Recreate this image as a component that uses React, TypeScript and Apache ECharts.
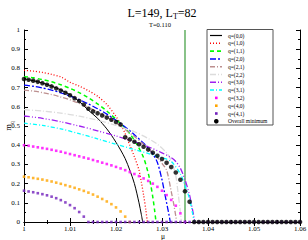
import React, { useEffect, useRef } from "react";
import * as echarts from "echarts";

const FONT = "Liberation Serif";

const xTicks = [1, 1.01, 1.02, 1.03, 1.04, 1.05, 1.06];
const yTicks = [0, 0.1, 0.2, 0.3, 0.4, 0.5, 0.6, 0.7, 0.8, 0.9, 1];

const muVertical = 1.035;

const q00: [number, number][] = [[1.000, .745], [1.002, .736], [1.004, .724], [1.006, .708], [1.008, .688], [1.010, .663], [1.012, .628], [1.014, .582], [1.016, .540], [1.018, .485], [1.019, .452], [1.020, .415], [1.021, .375], [1.022, .33], [1.023, .27], [1.024, .20], [1.025, .10], [1.0255, .04], [1.0258, 0]];
const q10: [number, number][] = [[1.000, .790], [1.002, .786], [1.004, .779], [1.006, .769], [1.008, .756], [1.010, .728], [1.012, .708], [1.014, .684], [1.016, .655], [1.018, .612], [1.020, .55], [1.021, .51], [1.022, .46], [1.023, .40], [1.024, .34], [1.025, .27], [1.0255, .21], [1.026, .14], [1.0265, .06], [1.0268, 0]];
const q11: [number, number][] = [[1.000, .757], [1.002, .751], [1.004, .742], [1.006, .730], [1.008, .715], [1.010, .696], [1.012, .674], [1.014, .647], [1.016, .615], [1.018, .578], [1.020, .535], [1.022, .488], [1.023, .46], [1.024, .425], [1.025, .385], [1.026, .335], [1.027, .255], [1.0275, .20], [1.028, .13], [1.0284, .06], [1.0287, 0]];
const q20: [number, number][] = [[1.000, .713], [1.002, .707], [1.004, .698], [1.006, .687], [1.008, .673], [1.010, .656], [1.012, .637], [1.014, .615], [1.016, .590], [1.018, .562], [1.020, .530], [1.022, .495], [1.024, .455], [1.026, .41], [1.027, .385], [1.028, .355], [1.029, .31], [1.030, .22], [1.0305, .16], [1.031, .10], [1.0315, .04], [1.0318, 0]];
const q21: [number, number][] = [[1.000, .687], [1.002, .682], [1.004, .674], [1.006, .664], [1.008, .651], [1.010, .636], [1.012, .618], [1.014, .597], [1.016, .573], [1.018, .546], [1.020, .516], [1.022, .482], [1.024, .445], [1.026, .405], [1.028, .36], [1.029, .335], [1.030, .305], [1.031, .27], [1.032, .16], [1.0325, .10], [1.033, .03], [1.0332, 0]];
const q22: [number, number][] = [[1.000, .585], [1.004, .578], [1.008, .567], [1.012, .551], [1.016, .530], [1.020, .503], [1.024, .47], [1.027, .435], [1.029, .405], [1.031, .36], [1.032, .32], [1.033, .24], [1.0335, .15], [1.034, .05], [1.0342, 0]];
const q30: [number, number][] = [[1.000, .552], [1.004, .540], [1.008, .522], [1.012, .500], [1.016, .475], [1.020, .448], [1.024, .418], [1.027, .392], [1.030, .36], [1.032, .335], [1.033, .315], [1.034, .28], [1.035, .22], [1.036, .14], [1.0365, .08], [1.037, .02], [1.0371, 0]];
const q31: [number, number][] = [[1.000, .515], [1.004, .503], [1.008, .485], [1.012, .460], [1.016, .433], [1.020, .405], [1.024, .377], [1.028, .35], [1.030, .335], [1.032, .315], [1.034, .25], [1.035, .19], [1.036, .12], [1.0366, .05], [1.037, 0]];

const muGrid = [1.000, 1.001, 1.002, 1.003, 1.004, 1.005, 1.006, 1.007, 1.008, 1.009, 1.010, 1.011, 1.012, 1.013, 1.014, 1.015, 1.016, 1.017, 1.018, 1.019, 1.020, 1.021, 1.022, 1.023, 1.024, 1.025, 1.026, 1.027, 1.028, 1.029, 1.030, 1.031, 1.032, 1.033, 1.034, 1.035, 1.036, 1.037, 1.038, 1.039, 1.040, 1.041, 1.042, 1.043, 1.044, 1.045, 1.046, 1.047, 1.048, 1.049, 1.050, 1.051, 1.052, 1.053, 1.054, 1.055, 1.056, 1.057, 1.058, 1.059, 1.060];

const q32 = [.400, .397, .393, .389, .385, .381, .376, .371, .366, .360, .354, .348, .342, .336, .330, .323, .316, .309, .302, .295, .287, .279, .270, .260, .250, .239, .227, .214, .200, .183, .163, .140, .115, .085, .045, 0];
const q40 = [.236, .233, .229, .225, .221, .216, .211, .205, .199, .192, .185, .178, .170, .162, .153, .143, .132, .120, .107, .093, .076, .055, .028, 0];
const q41 = [.163, .159, .155, .150, .145, .139, .132, .124, .114, .102, .088, .072, .052, .028, 0, 0, 0, 0, 0, 0, 0, 0, 0, 0, 0, 0, 0, 0, 0, 0, 0, 0, 0, 0, 0, 0, 0, 0, 0, 0, 0, 0, 0, 0, 0, 0, 0, 0, 0, 0, 0, 0, 0, 0, 0, 0, 0, 0, 0, 0, 0];
const overallMin = [.745, .741, .736, .730, .723, .715, .706, .696, .685, .673, .660, .645, .630, .612, .590, .576, .566, .555, .544, .533, .521, .508, .441, .430, .418, .405, .392, .377, .361, .345, .328, .308, .286, .258, .220, .160, .105, 0, 0, 0, 0, 0, 0, 0, 0, 0, 0, 0, 0, 0, 0, 0, 0, 0, 0, 0, 0, 0, 0, 0, 0];

const legendNames = ["q=(0,0)", "q=(1,0)", "q=(1,1)", "q=(2,0)", "q=(2,1)", "q=(2,2)", "q=(3,0)", "q=(3,1)", "q=(3,2)", "q=(4,0)", "q=(4,1)", "Overall minimum"];

type LineDef = { name: string; data: [number, number][]; color: string; dash: number[] | "solid"; width: number };
const lineDefs: LineDef[] = [
  { name: legendNames[0], data: q00, color: "#000000", dash: "solid", width: 1 },
  { name: legendNames[1], data: q10, color: "#ff0000", dash: [1, 2], width: 1.3 },
  { name: legendNames[2], data: q11, color: "#00ff00", dash: [4, 3], width: 1.5 },
  { name: legendNames[3], data: q20, color: "#0000ff", dash: [6, 2, 2, 2], width: 1.3 },
  { name: legendNames[4], data: q21, color: "#bc8f8f", dash: [5, 2, 1, 2], width: 1.3 },
  { name: legendNames[5], data: q22, color: "#dcdcdc", dash: [6, 2, 1, 2], width: 1.3 },
  { name: legendNames[6], data: q30, color: "#a020f0", dash: [6, 2, 1, 2, 1, 2], width: 1.3 },
  { name: legendNames[7], data: q31, color: "#00ffff", dash: [4, 2, 1, 2], width: 1.3 },
];
const dotDefs = [
  { name: legendNames[8], vals: q32, color: "#ff00ff" },
  { name: legendNames[9], vals: q40, color: "#ffa500" },
  { name: legendNames[10], vals: q41, color: "#7221bc" },
];

const fmt = (v: number) => String(parseFloat(v.toFixed(2)));

export default function App() {
  const ref = useRef<HTMLDivElement>(null);
  useEffect(() => {
    if (!ref.current) return;
    const chart = echarts.init(ref.current, null, { renderer: "svg" });

    const axisCommon = {
      axisLine: { show: true, lineStyle: { color: "#000", width: 1 } },
      axisTick: { show: true, inside: true, length: 4, lineStyle: { color: "#000" } },
      minorTick: { show: true, splitNumber: 2, length: 2, lineStyle: { color: "#000" } },
      splitLine: { show: false },
      minorSplitLine: { show: false },
    };

    const series: any[] = [];
    lineDefs.forEach((d) => {
      series.push({
        type: "line", name: d.name, data: d.data, symbol: "none", showSymbol: false,
        smooth: 0.3, silent: true,
        lineStyle: { color: d.color, width: d.width, type: d.dash },
        z: 3,
      });
    });
    dotDefs.forEach((d) => {
      series.push({
        type: "scatter", name: d.name, symbol: "rect", symbolSize: 2.6, silent: true,
        data: d.vals.map((v, i) => [muGrid[i], v]),
        itemStyle: { color: d.color }, z: 4,
      });
    });
    series.push({
      type: "scatter", name: legendNames[11], symbol: "circle", symbolSize: 4.6, silent: true,
      data: overallMin.map((v, i) => [muGrid[i], v]),
      itemStyle: { color: "#000" }, z: 5,
    });
    series.push({
      type: "line", name: "vline", data: [[muVertical, 0], [muVertical, 1]], symbol: "none",
      silent: true, lineStyle: { color: "#3a9a3a", width: 1.2 }, z: 2,
    });

    // legend drawn with graphics
    const lx = 207, ly = 29.5, lw = 66, lh = 95.5;
    const rowH = 7.8;
    const legendEls: any[] = [
      { type: "rect", shape: { x: lx, y: ly, width: lw, height: lh }, style: { fill: "#fff", stroke: "#555", lineWidth: 1 }, z: 10 },
    ];
    legendNames.forEach((name, i) => {
      const cy = ly + 6 + i * rowH;
      if (i < lineDefs.length) {
        const d = lineDefs[i];
        legendEls.push({
          type: "line", shape: { x1: lx + 3, y1: cy, x2: lx + 15, y2: cy },
          style: { stroke: d.color, lineWidth: d.width + 0.2, lineDash: d.dash === "solid" ? null : d.dash }, z: 11,
        });
      } else if (i < lineDefs.length + dotDefs.length) {
        const d = dotDefs[i - lineDefs.length];
        legendEls.push({ type: "rect", shape: { x: lx + 8, y: cy - 1.3, width: 2.6, height: 2.6 }, style: { fill: d.color }, z: 11 });
      } else {
        legendEls.push({ type: "circle", shape: { cx: lx + 9.3, cy, r: 2.3 }, style: { fill: "#000" }, z: 11 });
      }
      legendEls.push({
        type: "text", x: lx + 21, y: cy, z: 11,
        style: { text: name, fontFamily: FONT, fontSize: 5.5, fill: "#000", verticalAlign: "middle", align: "left" },
      });
    });

    chart.setOption({
      animation: false,
      backgroundColor: "#fff",
      grid: { left: 24, right: 8, top: 30, bottom: 18, containLabel: false, outerBoundsMode: "none" },
      xAxis: [
        {
          type: "value", min: 1, max: 1.06, interval: 0.01, position: "bottom",
          ...axisCommon,
          axisLabel: { show: true, fontFamily: FONT, fontSize: 7, color: "#000", margin: 3, formatter: (v: number) => fmt(v), customValues: xTicks },
        },
        {
          type: "value", min: 1, max: 1.06, interval: 0.01, position: "top",
          ...axisCommon, axisLabel: { show: false },
        },
      ],
      yAxis: [
        {
          type: "value", min: 0, max: 1, interval: 0.1, position: "left",
          ...axisCommon,
          axisLabel: { show: true, fontFamily: FONT, fontSize: 7, color: "#000", margin: 4, formatter: (v: number) => fmt(v), customValues: yTicks },
        },
        {
          type: "value", min: 0, max: 1, interval: 0.1, position: "right",
          ...axisCommon, axisLabel: { show: false },
        },
      ],
      graphic: [
        {
          type: "text", x: 162, y: 13.5, z: 20,
          style: {
            text: "{a|L=149, L}{s|T}{a|=82}", align: "center", verticalAlign: "middle",
            rich: {
              a: { fontFamily: FONT, fontSize: 12, fill: "#000", padding: [0, 0, 2, 0], verticalAlign: "top" },
              s: { fontFamily: FONT, fontSize: 8, fill: "#000", verticalAlign: "bottom" },
            },
          },
        },
        {
          type: "text", x: 160, y: 24, z: 20,
          style: { text: "T=0.110", fontFamily: FONT, fontSize: 6.5, fill: "#000", align: "center", verticalAlign: "middle" },
        },
        {
          type: "text", x: 163, y: 236.5, z: 20,
          style: { text: "μ", fontFamily: FONT, fontSize: 7.5, fill: "#000", align: "center", verticalAlign: "middle" },
        },
        {
          type: "text", x: 9, y: 126, rotation: Math.PI / 2, z: 20,
          style: {
            text: "{m|m}{q|q}", align: "center", verticalAlign: "middle",
            rich: {
              m: { fontFamily: FONT, fontSize: 8.5, fill: "#000", padding: [0, 0, 2, 0], verticalAlign: "top" },
              q: { fontFamily: FONT, fontSize: 5.5, fill: "#000", verticalAlign: "bottom" },
            },
          },
        },
        ...legendEls,
      ],
      series,
    });
    return () => chart.dispose();
  }, []);
  return <div ref={ref} style={{ position: "fixed", left: 0, top: 0, width: 308, height: 240 }} />;
}
